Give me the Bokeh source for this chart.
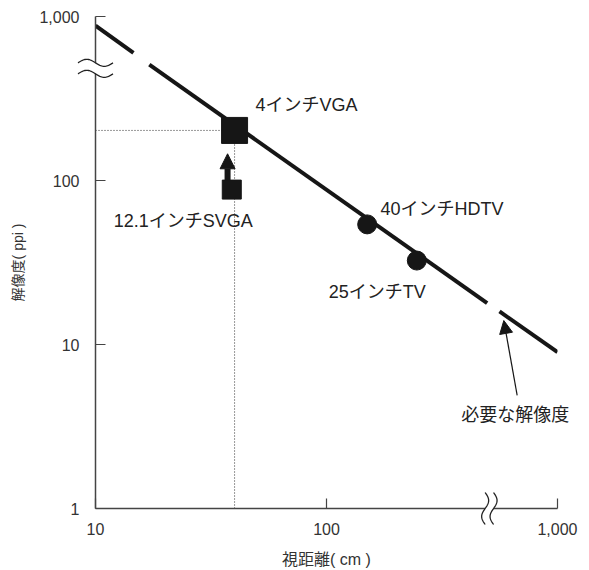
import numpy as np
from bokeh.plotting import figure
from bokeh.models import FixedTicker, Label, Arrow, NormalHead
from bokeh.core.properties import value
from bokeh.embed import file_html
from bokeh.resources import INLINE

# ---------------- data ----------------
# required-resolution line, drawn in three pieces (gaps at the axis breaks)
line_x = [[10, 14.6], [17.1, 496], [561, 1000]]
line_y = [[881, 601], [508, 17.9], [15.9, 8.98]]

vga_x = [40]          # 4インチVGA
vga_y = [202]
svga_x = [38.9]       # 12.1インチSVGA
svga_y = [88]
tv_x = [150, 246]     # 40インチHDTV, 25インチTV
tv_y = [54, 32.5]

labels = ["4インチVGA", "12.1インチSVGA", "40インチHDTV", "25インチTV", "必要な解像度"]
label_x = [49.3, 12.0, 171.4, 102.3, 382.7]
label_y = [288, 57.0, 67.2, 20.8, 3.73]

note_arrow_x = [669, 585.6]
note_arrow_y = [4.89, 14.0]

up_arrow_x = [37.3, 37.3]
up_arrow_y = [100, 145.5]

ref_x = 40
ref_y = 202

x_ticks = [10, 100, 1000]
x_tick_labels = ["10", "100", "1,000"]
y_ticks = [1, 10, 100, 1000]
y_tick_labels = ["1", "10", "100", "1,000"]

y_break = 483   # break mark on the y axis
x_break = 507   # break mark on the x axis

# ---------------- figure ----------------
FONT = "Liberation Sans, Noto Sans CJK JP"
INK = "#161616"
AX = "#444444"

W, H = 589, 570
BL, BR, BT, BB = 95, 32, 16, 62
p = figure(width=W, height=H, x_axis_type="log", y_axis_type="log",
           x_range=(10, 1000), y_range=(1, 1000),
           output_backend="svg", toolbar_location=None,
           min_border_left=BL, min_border_right=BR,
           min_border_top=BT, min_border_bottom=BB)
p.grid.visible = False
p.outline_line_color = None
p.background_fill_color = "white"

for ax, ticks, labs in ((p.xaxis[0], x_ticks, x_tick_labels),
                        (p.yaxis[0], y_ticks, y_tick_labels)):
    ax.ticker = FixedTicker(ticks=ticks)
    ax.major_label_overrides = {t: l for t, l in zip(ticks, labs)}
    ax.axis_line_color = AX
    ax.axis_line_width = 1.5
    ax.major_tick_line_color = AX
    ax.major_tick_line_width = 1.2
    ax.major_tick_in = 10
    ax.major_tick_out = 0
    ax.minor_tick_line_color = None
    ax.major_label_text_font = FONT
    ax.major_label_text_font_size = "16px"
    ax.major_label_text_color = "#333333"
    ax.axis_label_text_font = FONT
    ax.axis_label_text_font_style = "normal"
    ax.axis_label_text_color = "#333333"

p.xaxis.axis_label = "視距離( cm )"
p.xaxis.axis_label_text_font_size = "16px"
p.xaxis.major_label_standoff = 14
p.xaxis.axis_label_standoff = 13
p.yaxis.axis_label = "解像度( ppi )"
p.yaxis.axis_label_text_font_size = "14px"
p.yaxis.major_label_standoff = 16
p.yaxis.axis_label_standoff = 10

# reference lines (dotted)
p.line([min(x_ticks), ref_x], [ref_y, ref_y], line_dash="1 2", line_width=1, line_color="#333333")
p.line([ref_x, ref_x], [min(y_ticks), ref_y], line_dash="1 2", line_width=1, line_color="#333333")

# main line
p.multi_line(xs=line_x, ys=line_y, line_width=4, line_color=INK, line_cap="butt")

# markers
p.scatter(vga_x, vga_y, marker="square", size=26, color=INK)
p.scatter(svga_x, svga_y, marker="square", size=19, color=INK)
p.scatter(tv_x, tv_y, marker="circle", size=19, color=INK)

# arrows
p.add_layout(Arrow(end=NormalHead(size=15, fill_color=INK, line_color=INK),
                   x_start=up_arrow_x[0], y_start=up_arrow_y[0],
                   x_end=up_arrow_x[1], y_end=up_arrow_y[1],
                   line_width=6, line_color=INK))
p.add_layout(Arrow(end=NormalHead(size=13, fill_color=INK, line_color=INK),
                   x_start=note_arrow_x[0], y_start=note_arrow_y[0],
                   x_end=note_arrow_x[1], y_end=note_arrow_y[1],
                   line_width=1.2, line_color=INK))

# text labels (overlay level so they are not clipped at the frame edge)
p.text(x=label_x, y=label_y, text=labels, text_font=value(FONT),
       text_font_size="18px", text_baseline="middle", text_align="left",
       text_color="#222222", level="overlay")

# bold reference tick labels
p.add_layout(Label(x=ref_x, y=min(y_ticks), y_offset=-14, text=str(ref_x),
                   text_font=FONT, text_font_size="16px", text_font_style="bold",
                   text_align="center", text_baseline="top", text_color="#222222"))
p.add_layout(Label(x=min(x_ticks), y=ref_y, x_offset=-16, text=str(ref_y),
                   text_font=FONT, text_font_size="16px", text_font_style="bold",
                   text_align="right", text_baseline="middle", text_color="#222222"))

# axis-break marks (decoration, in pixel offsets), drawn at overlay level
ppd_x = (W - BL - BR) / 2.0
ppd_y = (H - BT - BB) / 3.0
t = np.linspace(0, 1, 41)
wave = np.sin(2 * np.pi * t)

# y axis break: two horizontal tildes
bx = 10 ** (np.log10(min(x_ticks)) + (t - 0.5) * 35 / ppd_x)
top = 10 ** (np.log10(y_break) + (5.5 + 3.5 * wave) / ppd_y)
bot = 10 ** (np.log10(y_break) + (-5.5 + 3.5 * wave) / ppd_y)
p.patch(list(bx) + list(bx[::-1]), list(top) + list(bot[::-1]),
        fill_color="white", line_color=None, level="overlay")
for w in (top, bot):
    p.line(bx, w, line_color="#222222", line_width=1.3, level="overlay")

# x axis break: two vertical S-curves
by = 10 ** (np.log10(min(y_ticks)) + (t - 0.5) * 32 / ppd_y)
lft = 10 ** (np.log10(x_break) + (-4.2 - 3.5 * wave) / ppd_x)
rgt = 10 ** (np.log10(x_break) + (4.2 - 3.5 * wave) / ppd_x)
p.patch(list(lft) + list(rgt[::-1]), list(by) + list(by[::-1]),
        fill_color="white", line_color=None, level="overlay")
for w in (lft, rgt):
    p.line(w, by, line_color="#222222", line_width=1.3, level="overlay")

open("out.html", "w").write(file_html(p, INLINE))
